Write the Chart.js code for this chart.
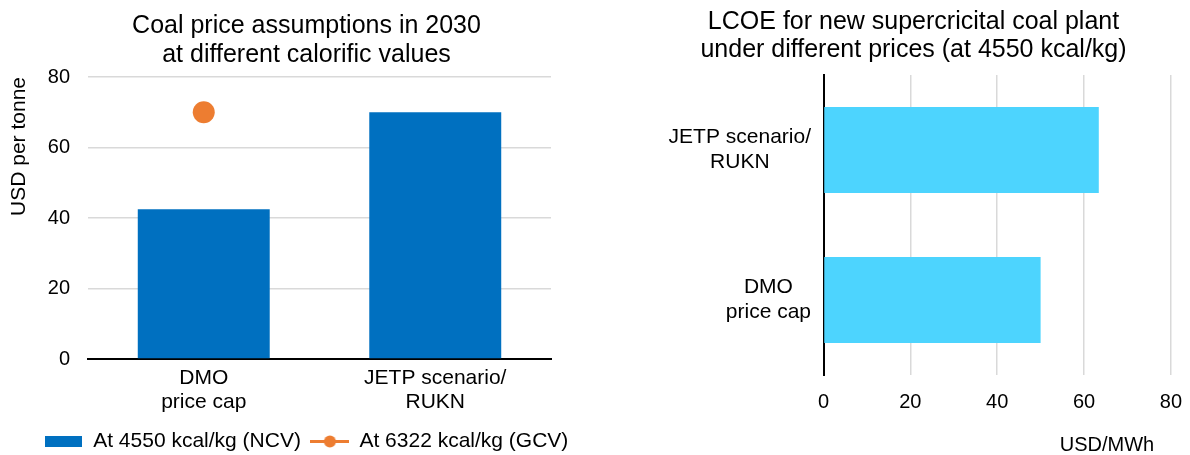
<!DOCTYPE html>
<html><head><meta charset="utf-8">
<script src="https://cdn.jsdelivr.net/npm/chart.js@4/dist/chart.umd.min.js"></script>
<style>
html,body{margin:0;padding:0;background:#fff;overflow:hidden;width:1190px;height:455px;}
#w1{position:absolute;left:0;top:0;width:613px;height:462px;}
#w2{position:absolute;left:630px;top:0;width:567px;height:455px;}
canvas{display:block;}
</style></head><body>
<div id="w1"><canvas id="c1" width="613" height="462"></canvas></div>
<div id="w2"><canvas id="c2" width="567" height="455"></canvas></div>
<script>
// ---- data ----
const categories = [['DMO', 'price cap'], ['JETP scenario/', 'RUKN']];
const priceNCV = [42.5, 70];
const priceGCV = [70, null];
const lcoeValues = [50, 63.4];
const seriesNames = ['At 4550 kcal/kg (NCV)', 'At 6322 kcal/kg (GCV)'];
const titleLeft = ['Coal price assumptions in 2030', 'at different calorific values'];
const titleRight = ['LCOE for new supercricital coal plant', 'under different prices (at 4550 kcal/kg)'];
const leftAxisTitle = 'USD per tonne';
const rightAxisTitle = 'USD/MWh';

// ---- styling ----
const FONT = "'Liberation Sans', Arial, sans-serif";
Chart.defaults.font.family = FONT;
Chart.defaults.color = '#000';
const BLUE = '#0070C0', ORANGE = '#ED7D31', CYAN = '#4DD4FE', GRID = '#d9d9d9';
const gridColor = ctx => (ctx.tick && ctx.tick.value === 0) ? 'rgba(0,0,0,0)' : GRID;

function mk(w, h, draw) { const c = document.createElement('canvas'); c.width = w; c.height = h; draw(c.getContext('2d')); return c; }
const swatchBar = mk(37, 11, g => { g.fillStyle = BLUE; g.fillRect(0, 0, 37, 11); });
const swatchLine = mk(39, 13, g => {
  g.strokeStyle = ORANGE; g.lineWidth = 3; g.beginPath(); g.moveTo(0, 6.5); g.lineTo(39, 6.5); g.stroke();
  g.fillStyle = ORANGE; g.beginPath(); g.arc(19.5, 6.5, 6, 0, Math.PI * 2); g.fill();
});

new Chart(document.getElementById('c1'), {
  type: 'bar',
  data: {
    labels: categories,
    datasets: [
      { type: 'bar', label: seriesNames[0], data: priceNCV, backgroundColor: BLUE,
        categoryPercentage: 0.57, barPercentage: 1, order: 2 },
      { type: 'line', label: seriesNames[1], data: priceGCV, showLine: false,
        pointRadius: 11, pointBorderWidth: 0, pointBackgroundColor: ORANGE,
        borderColor: ORANGE, backgroundColor: ORANGE, order: 1 }
    ]
  },
  options: {
    responsive: false, animation: false,
    layout: { padding: 0 },
    plugins: {
      title: { display: true, text: titleLeft, color: '#000',
        font: { size: 25, weight: 'normal', lineHeight: 1.15 }, padding: { top: 12, bottom: 7.5 } },
      legend: { position: 'bottom',
        labels: { usePointStyle: true, pointStyleWidth: 38, boxHeight: 12, padding: 10,
          font: { size: 21 }, color: '#000',
          generateLabels: chart => chart.data.datasets.map((ds, i) => ({
            text: ds.label, pointStyle: i === 0 ? swatchBar : swatchLine,
            fillStyle: 'rgba(0,0,0,0)', strokeStyle: 'rgba(0,0,0,0)', lineWidth: 0,
            hidden: false, datasetIndex: i, fontColor: '#000' })) } },
      tooltip: { enabled: false }
    },
    scales: {
      x: { z: 1, grid: { display: false, drawTicks: false },
        border: { display: true, color: '#000', width: 2 },
        ticks: { font: { size: 21, lineHeight: 1.15 }, color: '#000', padding: 7 },
        afterFit: s => { s.height = 62; } },
      y: { min: 0, max: 80,
        ticks: { stepSize: 20, font: { size: 20 }, color: '#000', padding: 18 },
        grid: { color: gridColor, lineWidth: 1.5, drawTicks: false },
        border: { display: false },
        title: { display: true, text: leftAxisTitle, align: 'end', color: '#000',
          font: { size: 21 }, padding: { top: 7, bottom: 0 } },
        afterFit: s => { s.width = 88; } },
      yPad: { type: 'linear', position: 'right', grid: { display: false }, border: { display: false },
        ticks: { display: false }, afterFit: s => { s.width = 62; } }
    }
  }
});

const catLabelPlugin = {
  id: 'catLabels',
  afterDraw(chart) {
    const ys = chart.scales.y, ctx = chart.ctx;
    ctx.save();
    ctx.font = '21px ' + FONT; ctx.fillStyle = '#000';
    ctx.textAlign = 'center'; ctx.textBaseline = 'middle';
    const right = chart.chartArea.left - 12.5, lh = 25;
    ys.getLabels().forEach((lines, i) => {
      const w = Math.max(...lines.map(l => ctx.measureText(l).width));
      const cx = right - w / 2, cy = ys.getPixelForValue(i);
      lines.forEach((l, j) => ctx.fillText(l, cx, cy + (j - (lines.length - 1) / 2) * lh));
    });
    ctx.restore();
  }
};

new Chart(document.getElementById('c2'), {
  type: 'bar',
  data: { labels: categories,
    datasets: [{ label: 'LCOE', data: lcoeValues, backgroundColor: CYAN,
      categoryPercentage: 0.573, barPercentage: 1 }] },
  options: {
    indexAxis: 'y', responsive: false, animation: false,
    layout: { padding: 0 },
    plugins: {
      title: { display: true, text: titleRight, color: '#000',
        font: { size: 25, weight: 'normal', lineHeight: 1.15 }, padding: { top: 7.3, bottom: 10.2 } },
      legend: { display: false }, tooltip: { enabled: false }
    },
    scales: {
      x: { min: 0, max: 80,
        ticks: { stepSize: 20, font: { size: 20 }, color: '#000', padding: 15 },
        grid: { color: gridColor, lineWidth: 1.5, drawTicks: false },
        border: { display: false },
        title: { display: true, text: rightAxisTitle + '   ', align: 'end', color: '#000',
          font: { size: 20, lineHeight: 1 }, padding: { top: 0, bottom: 0 } },
        afterFit: s => { s.height = 80; } },
      y: { reverse: true, z: 1, ticks: { display: false }, grid: { display: false },
        border: { display: true, color: '#000', width: 2 },
        afterFit: s => { s.width = 193.5; } }
    }
  },
  plugins: [catLabelPlugin]
});
</script>
</body></html>
